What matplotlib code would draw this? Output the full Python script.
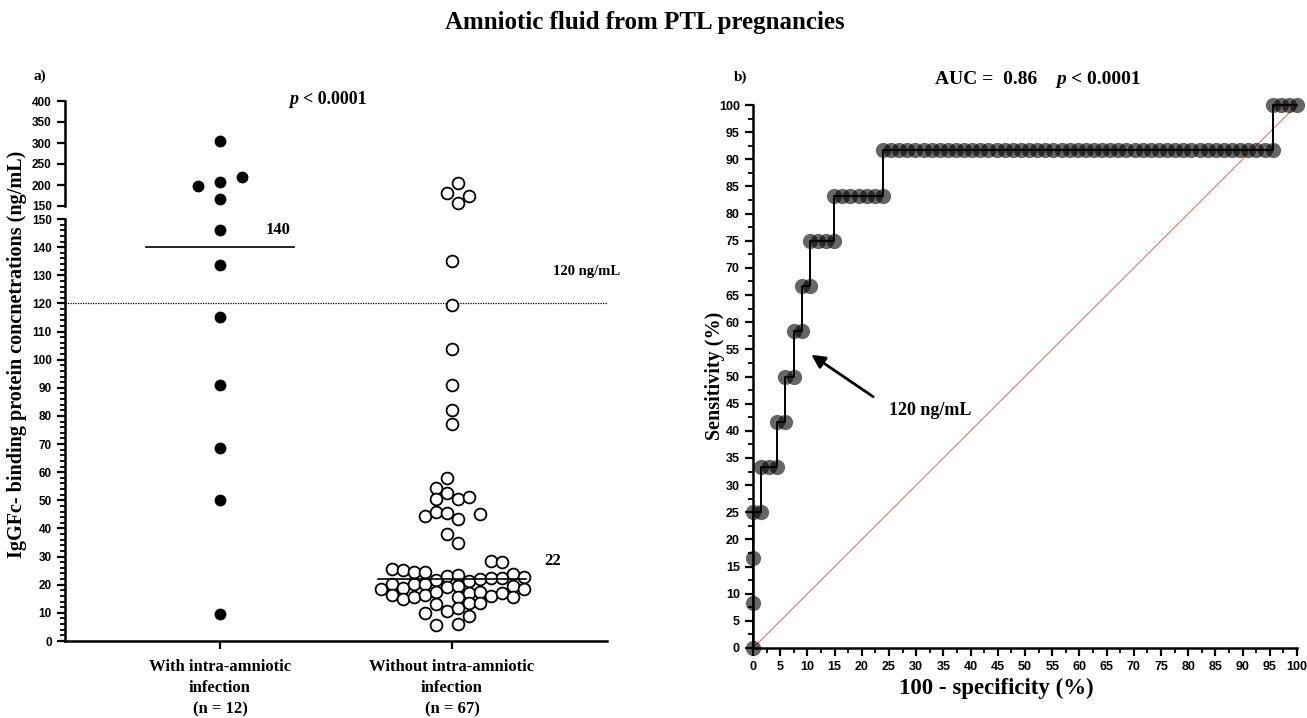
import matplotlib
matplotlib.use('Agg')
import matplotlib.pyplot as plt
import numpy as np
from matplotlib.ticker import MultipleLocator

# left panel: concentrations (ng/mL)
with_vals = [305, 220, 208, 197, 166, 146, 133.5, 115, 91, 68.5, 50, 9.5]
with_slot = [0, 2, 0, -2, 0, 0, 0, 0, 0, 0, 0, 0]

without_vals = [18.4,
                25.5, 20.2, 16.4,
                25.2, 18.7, 14.8,
                24.6, 20.2, 15.7,
                24.6, 20.2, 16.4, 10.1, 44.4,
                21.7, 17.5, 13.0, 5.7, 54.3, 50.4, 46.0,
                23.2, 19.3, 10.7, 57.8, 52.5, 45.4, 38.0, 180,
                23.5, 19.7, 15.7, 11.8, 5.9, 50.5, 43.3, 34.7, 204, 156.5,
                21.2, 17.0, 13.4, 8.8, 51.1, 174.5,
                22.0, 17.5, 13.4, 45.1,
                28.5, 22.5, 16.0,
                28.2, 22.3, 17.0,
                23.7, 19.7, 15.7,
                22.9, 18.5,
                135.2, 119.3, 103.9, 91.1, 82.2, 77.2]
without_slot = [-6.5,
                -5.5, -5.5, -5.5,
                -4.5, -4.5, -4.5,
                -3.5, -3.5, -3.5,
                -2.5, -2.5, -2.5, -2.5, -2.5,
                -1.5, -1.5, -1.5, -1.5, -1.5, -1.5, -1.5,
                -0.5, -0.5, -0.5, -0.5, -0.5, -0.5, -0.5, -0.5,
                0.5, 0.5, 0.5, 0.5, 0.5, 0.5, 0.5, 0.5, 0.5, 0.5,
                1.5, 1.5, 1.5, 1.5, 1.5, 1.5,
                2.5, 2.5, 2.5, 2.5,
                3.5, 3.5, 3.5,
                4.5, 4.5, 4.5,
                5.5, 5.5, 5.5,
                6.5, 6.5,
                0, 0, 0, 0, 0, 0]
medians = [140, 22]
cutoff = 120
groups = ['With intra-amniotic\ninfection\n(n = 12)', 'Without intra-amniotic\ninfection\n(n = 67)']

# right panel: ROC path as counts (false positives of 67, true positives of 12)
n_neg, n_pos = 67, 12
fp_count = [0, 0, 0, 0, 1, 1, 2, 3, 3, 4, 4, 5, 5, 6, 6, 7, 7, 8, 9, 10, 10] + \
           list(range(11, 17)) + [16] + list(range(17, 65)) + [64, 65, 66, 67]
tp_count = [0, 1, 2, 3, 3, 4, 4, 4, 5, 5, 6, 6, 7, 7, 8, 8, 9, 9, 9, 9, 10] + \
           [10] * 6 + [11] + [11] * 48 + [12, 12, 12, 12]

serif = 'Liberation Serif'
sans = 'Liberation Sans'
plt.rcParams['font.family'] = sans
plt.rcParams['font.weight'] = 'bold'

fig = plt.figure(figsize=(13.07, 7.18), dpi=100)

W, H = 1307, 718
def box(x0, y0, x1, y1):
    return [x0 / W, 1 - y1 / H, (x1 - x0) / W, (y1 - y0) / H]

ax_lo = fig.add_axes(box(65, 219, 607, 641))
ax_hi = fig.add_axes(box(65, 101, 607, 206))
ax_roc = fig.add_axes(box(753, 105, 1297, 648))

step = 11 / 232.0

def style(ax, size):
    for s in ax.spines.values():
        s.set_linewidth(1.8)
    ax.tick_params(which='major', direction='out', length=6, width=1.6, labelsize=size)
    ax.tick_params(which='minor', direction='out', length=3.5, width=1.3)

for ax in (ax_lo, ax_hi):
    style(ax, 8.5)
    ax.spines['top'].set_visible(False)
    ax.spines['right'].set_visible(False)
    ax.set_xlim(-0.668, 1.668)

ax_hi.spines['bottom'].set_visible(False)
ax_hi.set_xticks([])
ax_hi.set_ylim(150, 400)
ax_hi.yaxis.set_major_locator(MultipleLocator(50))

ax_lo.set_ylim(0, 150)
ax_lo.yaxis.set_major_locator(MultipleLocator(10))
ax_lo.yaxis.set_minor_locator(MultipleLocator(2))
ax_lo.set_xticks([0, 1])
ax_lo.set_xticklabels(groups, family=serif, fontsize=12, fontweight='bold', linespacing=1.45)
ax_lo.tick_params(axis='x', pad=7)

wv = np.array(with_vals); ws = np.array(with_slot) * step
nv = np.array(without_vals); ns = 1 + np.array(without_slot) * step
for ax, lo, hi in ((ax_lo, 0, 150), (ax_hi, 150, 400)):
    m = (wv >= lo) & (wv < hi)
    ax.plot(ws[m], wv[m], 'o', color='black', markersize=7.5, clip_on=False, zorder=3)
    m = (nv >= lo) & (nv < hi)
    ax.plot(ns[m], nv[m], 'o', mfc='white', mec='black', mew=1.3, markersize=8.5,
            clip_on=False, zorder=3)

for i, med in enumerate(medians):
    ax_lo.plot([i - 0.32, i + 0.32], [med, med], color='black', lw=1.2, zorder=4)
ax_lo.text(0.25, 146, '140', family=serif, fontsize=12, fontweight='bold', ha='center', va='center')
ax_lo.text(1.435, 28.5, '22', family=serif, fontsize=12, fontweight='bold', ha='center', va='center')
ax_lo.axhline(cutoff, color='black', lw=0.9, ls=(0, (1, 1)), zorder=1)
ax_lo.text(1.58, 131.3, '120 ng/mL', family=serif, fontsize=10.5, fontweight='bold', ha='center', va='center')

# ROC
style(ax_roc, 9)
ax_roc.spines['top'].set_visible(False)
ax_roc.spines['right'].set_visible(False)
fpr = np.array(fp_count) / n_neg * 100
sens = np.array(tp_count) / n_pos * 100
ax_roc.plot([0, 100], [0, 100], color='#e06666', lw=0.7, zorder=1)
ax_roc.plot(fpr, sens, 'o', color='black', alpha=0.6, markersize=11, mew=0, clip_on=False, zorder=2)
ax_roc.plot(fpr, sens, color='black', lw=1.4, clip_on=False, zorder=3)
ax_roc.set_xlim(0, 100)
ax_roc.set_ylim(0, 100)
ax_roc.xaxis.set_major_locator(MultipleLocator(5))
ax_roc.yaxis.set_major_locator(MultipleLocator(5))
ax_roc.xaxis.set_minor_locator(MultipleLocator(2.5))
ax_roc.yaxis.set_minor_locator(MultipleLocator(2.5))
ax_roc.annotate('', xy=(10.3, 54.3), xytext=(22.5, 46),
                arrowprops=dict(arrowstyle='-|>', color='black', lw=2, mutation_scale=20))
ax_roc.text(32.5, 43.8, '120 ng/mL', family=serif, fontsize=13, fontweight='bold', ha='center', va='center')

# figure texts
def ptext(x, y, after, size):
    # italic bold "p" followed by upright bold text
    fig.text(x / W, 1 - y / H, after, family=serif, fontsize=size, fontweight='bold',
             ha='left', va='center')
    fig.text(x / W, 1 - y / H, 'p ', family=serif, fontsize=size, fontweight='bold',
             style='italic', ha='right', va='center')

fig.text(645 / W, 1 - 22 / H, 'Amniotic fluid from PTL pregnancies', family=serif, fontsize=18,
         fontweight='bold', ha='center', va='center')
fig.text(40 / W, 1 - 76 / H, 'a)', family=serif, fontsize=11, fontweight='bold', ha='center', va='center')
fig.text(741 / W, 1 - 77 / H, 'b)', family=serif, fontsize=11, fontweight='bold', ha='center', va='center')
ptext(303, 100, '< 0.0001', 13)
ptext(1071, 80, '< 0.0001', 14)
fig.text(1037 / W, 1 - 80 / H, 'AUC =  0.86', family=serif, fontsize=14, fontweight='bold',
         ha='right', va='center')
fig.text(17 / W, 1 - 354 / H, 'IgGFc- binding protein concnetrations (ng/mL)', family=serif,
         fontsize=14.5, fontweight='bold', rotation=90, ha='center', va='center')
fig.text(715 / W, 1 - 376 / H, 'Sensitivity (%)', family=serif, fontsize=14.5, fontweight='bold',
         rotation=90, ha='center', va='center')
fig.text(996 / W, 1 - 688 / H, '100 - specificity (%)', family=serif, fontsize=16.5,
         fontweight='bold', ha='center', va='center')

fig.savefig('out.png', dpi=100)
